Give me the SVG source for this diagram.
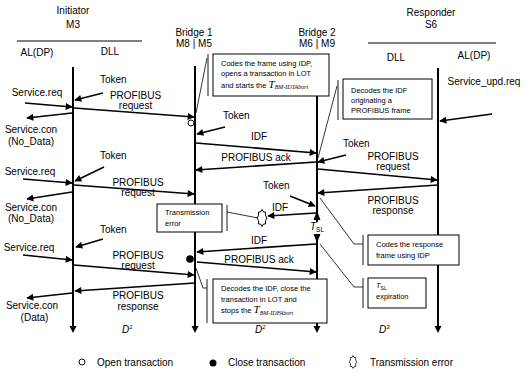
<svg xmlns="http://www.w3.org/2000/svg" width="527" height="372" viewBox="0 0 527 372">
<style>
text{font-family:"Liberation Sans",Arial,sans-serif;font-size:10px;fill:#000}
.c{text-anchor:middle}
.bx{font-size:7.5px}
.ll{stroke:#000;stroke-width:2;fill:none}
.ar{stroke:#000;stroke-width:1.6;fill:none;marker-end:url(#ah)}
.box{fill:#fff;stroke:#000;stroke-width:1}
.br{stroke:#666;stroke-width:1.5;fill:none}
.th{stroke:#000;stroke-width:0.8;fill:none}
.tm{font-family:"Liberation Serif","Times New Roman",serif;font-style:italic}
</style>
<defs>
<marker id="ah" viewBox="0 0 10 10" refX="9" refY="5" markerWidth="9" markerHeight="7" markerUnits="userSpaceOnUse" orient="auto"><path d="M0,0 L10,5 L0,10 z" fill="#000"/></marker>
<polygon id="err" points="5,0 3.5,2.5 3.5,6 1.5,6 0,8.5 -1.5,6 -3.5,6 -3.5,2.5 -5,0 -3.5,-2.5 -3.5,-6 -1.5,-6 0,-8.5 1.5,-6 3.5,-6 3.5,-2.5" fill="#fff" stroke="#000" stroke-width="1"/>
</defs>

<g id="headers">
<text class="c" x="73" y="14">Initiator</text>
<text class="c" x="73" y="28">M3</text>
<line x1="17" y1="41" x2="142" y2="41" stroke="#000" stroke-width="1"/>
<text class="c" x="37" y="56">AL(DP)</text>
<text class="c" x="110" y="55">DLL</text>
<text class="c" x="194" y="36">Bridge 1</text>
<text class="c" x="194" y="47">M8 | M5</text>
<text class="c" x="317" y="36">Bridge 2</text>
<text class="c" x="317" y="47">M6 | M9</text>
<text class="c" x="431" y="16">Responder</text>
<text class="c" x="431" y="28">S6</text>
<line x1="368" y1="43" x2="496" y2="43" stroke="#000" stroke-width="1"/>
<text class="c" x="396" y="61">DLL</text>
<text class="c" x="474" y="59">AL(DP)</text>
</g>

<g id="lifelines">
<line class="ll" x1="73" y1="67" x2="73" y2="327"/>
<path d="M69.5,326 L76.5,326 L73,333 z"/>
<line class="ll" x1="195" y1="66" x2="195" y2="327"/>
<path d="M191.5,326 L198.5,326 L195,333 z"/>
<line class="ll" x1="317" y1="67" x2="317" y2="327"/>
<path d="M313.5,326 L320.5,326 L317,333 z"/>
<line class="ll" x1="438" y1="68" x2="438" y2="327"/>
<path d="M434.5,326 L441.5,326 L438,333 z"/>
</g>

<g id="annotations">
<line class="br" x1="208" y1="54" x2="208" y2="96"/>
<line class="th" x1="207" y1="58" x2="196" y2="113"/>
<rect class="box" x="213" y="54" width="116" height="42"/>
<text class="bx" x="221" y="65.5">Codes the frame using IDP,</text>
<text class="bx" x="221" y="76">opens a transaction in LOT</text>
<text class="bx" x="221" y="87.5">and starts the <tspan class="tm" font-size="11">T</tspan><tspan class="tm" font-size="6" dy="1.5">BM-IDTAbort</tspan></text>

<line class="br" x1="338" y1="80" x2="338" y2="120"/>
<line class="th" x1="337" y1="86" x2="318" y2="158"/>
<rect class="box" x="343" y="79" width="89" height="40"/>
<text class="bx" x="351" y="93">Decodes the IDF</text>
<text class="bx" x="351" y="103">originating a</text>
<text class="bx" x="351" y="113">PROFIBUS frame</text>

<line class="br" x1="227" y1="205" x2="227" y2="231"/>
<line class="th" x1="227" y1="212" x2="258" y2="218"/>
<rect class="box" x="157" y="204" width="65" height="28"/>
<text class="bx" x="165" y="215">Transmission</text>
<text class="bx" x="165" y="226">error</text>

<line class="br" x1="363" y1="235" x2="363" y2="265"/>
<polyline class="th" points="320,198 354,244 363,244"/>
<rect class="box" x="368" y="235" width="91" height="30"/>
<text class="bx" x="376" y="247">Codes the response</text>
<text class="bx" x="376" y="258">frame using IDP</text>

<line class="br" x1="363" y1="278" x2="363" y2="308"/>
<polyline class="th" points="320,244 354,287 363,287"/>
<rect class="box" x="368" y="278" width="58" height="30"/>
<text class="bx" x="376" y="288"><tspan font-style="italic">T</tspan><tspan font-size="5" dy="1.5">SL</tspan></text>
<text class="bx" x="376" y="299">expiration</text>

<line class="br" x1="207" y1="279" x2="207" y2="323"/>
<polyline class="th" points="196,268 203,288 207,288"/>
<rect class="box" x="213" y="279" width="114" height="44"/>
<text class="bx" x="221" y="290.5">Decodes the IDF, close the</text>
<text class="bx" x="221" y="301.5">transaction in LOT and</text>
<text class="bx" x="221" y="313">stops the <tspan class="tm" font-size="11">T</tspan><tspan class="tm" font-size="6" dy="1.5">BM-IDFAbort</tspan></text>
</g>

<g id="connectors">
<line class="ar" x1="103" y1="93" x2="75" y2="100"/>
<line class="ar" x1="25" y1="103" x2="72" y2="107"/>
<line class="ar" x1="74" y1="108" x2="194" y2="117"/>
<line class="ar" x1="72" y1="113" x2="27" y2="118"/>
<line class="ar" x1="225" y1="127" x2="197" y2="134"/>
<line class="ar" x1="196" y1="143" x2="316" y2="153"/>
<line class="ar" x1="316" y1="162" x2="196" y2="170"/>
<line class="ar" x1="346" y1="155" x2="318" y2="162"/>
<line class="ar" x1="318" y1="169" x2="437" y2="180"/>
<line class="ar" x1="438" y1="185" x2="318" y2="193"/>
<line class="ar" x1="492" y1="114" x2="440" y2="121"/>
<line class="ar" x1="104" y1="167" x2="75" y2="181"/>
<line class="ar" x1="23" y1="179" x2="72" y2="183"/>
<line class="ar" x1="74" y1="185" x2="194" y2="194"/>
<line class="ar" x1="72" y1="192" x2="27" y2="199"/>
<line class="ar" x1="290" y1="196" x2="315" y2="206"/>
<line class="ar" x1="316" y1="213" x2="268" y2="216"/>
<line class="ar" x1="103" y1="239" x2="76" y2="247"/>
<line class="ar" x1="23" y1="255" x2="72" y2="260"/>
<line class="ar" x1="74" y1="265" x2="194" y2="275"/>
<line class="ar" x1="195" y1="283" x2="75" y2="291"/>
<line class="ar" x1="72" y1="293" x2="27" y2="298"/>
<line class="ar" x1="316" y1="244" x2="197" y2="252"/>
<line class="ar" x1="197" y1="262" x2="316" y2="272"/>
<path d="M313.5,220 L320.5,220 L317,211 z"/>
<path d="M313.5,234 L320.5,234 L317,243 z"/>
</g>

<g id="labels">
<text x="100" y="83">Token</text>
<text class="c" x="37" y="95.5">Service.req</text>
<text class="c" x="135.5" y="99">PROFIBUS</text>
<text class="c" x="135.5" y="109">request</text>
<text class="c" x="31" y="133">Service.con</text>
<text class="c" x="31" y="145">(No_Data)</text>
<text x="223" y="119">Token</text>
<text class="c" x="259" y="140">IDF</text>
<text class="c" x="256" y="161">PROFIBUS ack</text>
<text x="343" y="147">Token</text>
<text class="c" x="393" y="160">PROFIBUS</text>
<text class="c" x="393" y="170">request</text>
<text class="c" x="393" y="204">PROFIBUS</text>
<text class="c" x="393" y="214">response</text>
<text class="c" x="484" y="84.5">Service_upd.req</text>
<text x="100" y="159">Token</text>
<text class="c" x="30" y="175">Service.req</text>
<text class="c" x="138" y="186">PROFIBUS</text>
<text class="c" x="138" y="195.5">request</text>
<text class="c" x="31" y="210.5">Service.con</text>
<text class="c" x="31" y="221.5">(No_Data)</text>
<text x="263" y="189">Token</text>
<text class="c" x="280" y="210.5">IDF</text>
<rect x="310" y="222" width="14" height="12" fill="#fff"/>
<text x="310" y="230"><tspan font-style="italic">T</tspan><tspan font-size="6.5" dy="1.5">SL</tspan></text>
<text x="100" y="233">Token</text>
<text class="c" x="29" y="250.5">Service.req</text>
<text class="c" x="138" y="259">PROFIBUS</text>
<text class="c" x="138" y="268.5">request</text>
<text class="c" x="138" y="299">PROFIBUS</text>
<text class="c" x="138" y="310">response</text>
<text class="c" x="32" y="309">Service.con</text>
<text class="c" x="34.5" y="320.5">(Data)</text>
<text class="c" x="259" y="244">IDF</text>
<text class="c" x="259" y="263">PROFIBUS ack</text>
<text x="122" y="333" font-style="italic">D<tspan font-size="6" dy="-4">1</tspan></text>
<text x="255" y="333" font-style="italic">D<tspan font-size="6" dy="-4">2</tspan></text>
<text x="379" y="333" font-style="italic">D<tspan font-size="6" dy="-4">3</tspan></text>
</g>

<g id="markers">
<circle cx="191" cy="123" r="3" fill="#fff" stroke="#000" stroke-width="1"/>
<circle cx="190" cy="259" r="3.8" fill="#000"/>
<use href="#err" x="262" y="218"/>
</g>

<g id="legend">
<circle cx="82" cy="362" r="3" fill="#fff" stroke="#000" stroke-width="1"/>
<text x="97" y="365.5">Open transaction</text>
<circle cx="213" cy="363" r="3.5" fill="#000"/>
<text x="228" y="365.5">Close transaction</text>
<use href="#err" transform="translate(353,362) scale(0.75)"/>
<text x="370" y="365.5">Transmission error</text>
</g>
</svg>
